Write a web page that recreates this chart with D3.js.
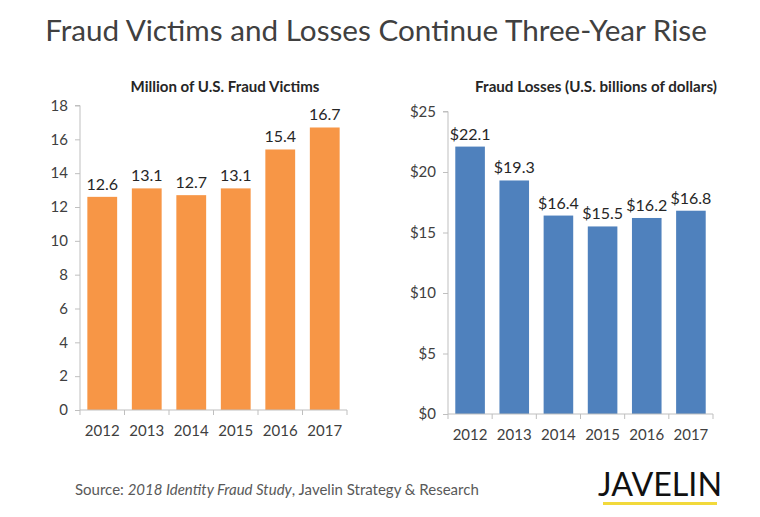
<!DOCTYPE html>
<html><head><meta charset="utf-8">
<script src="https://cdn.jsdelivr.net/npm/d3@7"></script>
<style>
body{margin:0;background:#fff;}
text{font-family:Lato,"Open Sans",sans-serif;}
</style></head>
<body><svg id="c" width="760" height="517"></svg>
<script>
const years = ["2012","2013","2014","2015","2016","2017"];
const victims = [12.6,13.1,12.7,13.1,15.4,16.7];
const losses = [22.1,19.3,16.4,15.5,16.2,16.8];
const victimTicks = [0,2,4,6,8,10,12,14,16,18];
const lossTicks = [0,5,10,15,20,25];

const svg = d3.select("#c");

function fitText(sel, w){
  const len = sel.node().getComputedTextLength();
  const fs = parseFloat(sel.attr("font-size"));
  sel.attr("font-size", fs*w/len);
}

const title = svg.append("text").attr("x",376).attr("y",41).attr("text-anchor","middle")
  .attr("font-size",30).attr("fill","#404040").text("Fraud Victims and Losses Continue Three-Year Rise");
fitText(title, 662);

function panel(opt){
  const x = d3.scaleBand().domain(years).range([opt.x0,opt.x1]).paddingInner(0.33).paddingOuter(0.165);
  const y = d3.scaleLinear().domain([0,opt.max]).range([opt.y0,opt.y1]);
  const g = svg.append("g");
  const st = g.append("text").attr("x",opt.tx).attr("y",92).attr("text-anchor","middle")
    .attr("font-size",12).attr("font-weight","bold").attr("fill","#262626").text(opt.title);
  fitText(st, opt.tw);
  // y axis
  const ya = g.append("g").attr("transform",`translate(${opt.x0},0)`)
    .call(d3.axisLeft(y).tickValues(opt.ticks).tickSize(5).tickPadding(7).tickFormat(opt.fmt));
  ya.select(".domain").attr("stroke","#bfbfbf").attr("d",`M-5,${opt.y1}H0V${opt.y0}`);
  ya.selectAll(".tick line").attr("stroke","#bfbfbf");
  ya.selectAll(".tick text").attr("font-size",15).attr("fill","#404040").attr("font-family","Lato,'Open Sans',sans-serif");
  // bars
  g.selectAll("rect").data(opt.values).join("rect")
    .attr("x",(d,i)=>x(years[i])).attr("width",x.bandwidth())
    .attr("y",d=>y(d)).attr("height",d=>opt.y0-y(d)).attr("fill",opt.color);
  g.selectAll("text.lab").data(opt.values).join("text").attr("class","lab")
    .attr("x",(d,i)=>x(years[i])+x.bandwidth()/2).attr("y",d=>y(d)-7)
    .attr("text-anchor","middle").attr("font-size",16).attr("fill","#262626")
    .text(d=>opt.lab(d));
  // x axis
  const xa = g.append("g").attr("transform",`translate(0,${opt.y0})`);
  xa.append("line").attr("x1",opt.x0).attr("x2",opt.x1).attr("stroke","#bfbfbf");
  const bounds = d3.range(7).map(i=>opt.x0 + (opt.x1-opt.x0)*i/6);
  xa.selectAll("line.t").data(bounds).join("line").attr("class","t")
    .attr("x1",d=>d).attr("x2",d=>d).attr("y1",0).attr("y2",5).attr("stroke","#bfbfbf");
  xa.selectAll("text.yr").data(years).join("text").attr("class","yr")
    .attr("x",d=>x(d)+x.bandwidth()/2).attr("y",opt.ly-opt.y0).attr("text-anchor","middle")
    .attr("font-size",15).attr("fill","#404040").text(d=>d);
}

panel({x0:80,x1:347,y0:410,y1:105.5,max:18,ticks:victimTicks,values:victims,color:"#F79646",
  fmt:d=>d, lab:d=>d.toFixed(1), title:"Million of U.S. Fraud Victims", tx:225, tw:189, ly:436});
panel({x0:448,x1:713,y0:414,y1:111.5,max:25,ticks:lossTicks,values:losses,color:"#4F81BD",
  fmt:d=>"$"+d, lab:d=>"$"+d.toFixed(1), title:"Fraud Losses (U.S. billions of dollars)", tx:596, tw:242, ly:440});

// footer
const src = svg.append("text").attr("x",75).attr("y",495).attr("font-size",14).attr("fill","#595959");
src.append("tspan").text("Source: ");
src.append("tspan").attr("font-style","italic").text("2018 Identity Fraud Study");
src.append("tspan").text(", Javelin Strategy & Research");
fitText(src, 404);

const jv = svg.append("text").attr("x",660).attr("y",496).attr("text-anchor","middle")
  .attr("font-size",24).attr("fill","#111").attr("font-family","'Liberation Sans',Arial,sans-serif").text("JAVELIN");
fitText(jv, 124);
svg.append("rect").attr("x",603).attr("y",502).attr("width",114).attr("height",3).attr("fill","#F2D93B");
</script></body></html>
